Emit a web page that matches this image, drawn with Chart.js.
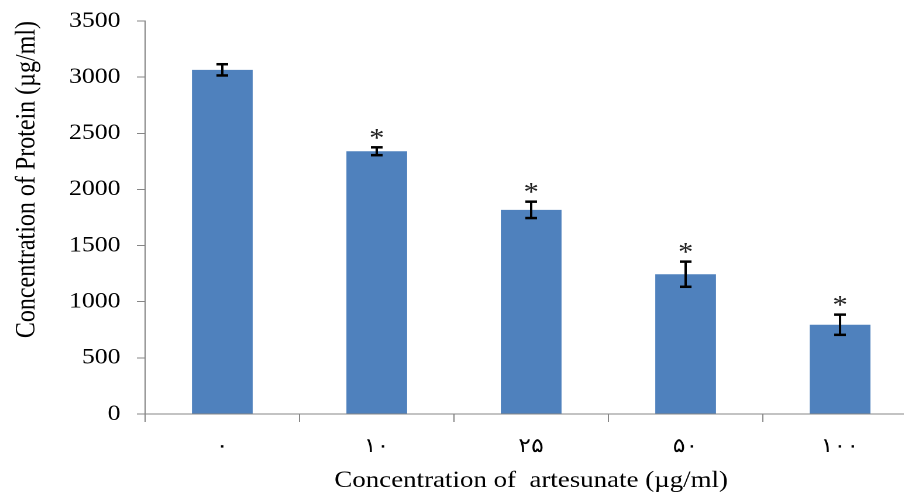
<!DOCTYPE html>
<html>
<head>
<meta charset="utf-8">
<script src="https://cdn.jsdelivr.net/npm/chart.js@4/dist/chart.umd.min.js"></script>
<style>
  html, body { margin: 0; padding: 0; background: #fff; overflow: hidden; }
  #outer { width: 904px; height: 497px; overflow: hidden; position: relative; }
  #wrap { position: absolute; left: 0; top: 0; width: 784px; height: 497px; transform: scaleX(1.17); transform-origin: 0 0; }
</style>
</head>
<body>
<div id="outer"><div id="wrap"><canvas id="c"></canvas></div></div>
<script>
// ---- data ----
const categories = ['۰', '۱۰', '۲۵', '۵۰', '۱۰۰'];
const means = [3065, 2340, 1818, 1245, 795];
const errors = [50, 35, 73, 112, 90];
const significant = [false, true, true, true, true];
const yMin = 0, yMax = 3500, yStep = 500;
const xTitle = 'Concentration of  artesunate (µg/ml)';
const yTitle = 'Concentration of Protein (µg/ml)';

const serif = "'Liberation Serif', 'Times New Roman', serif";
const axisGrey = '#868686';

const errorPlugin = {
  id: 'errorBars',
  afterDatasetsDraw(chart) {
    const ctx = chart.ctx;
    const meta = chart.getDatasetMeta(0);
    const ys = chart.scales.y;
    ctx.save();
    ctx.strokeStyle = '#000';
    meta.data.forEach((bar, i) => {
      const x = bar.x;
      const top = ys.getPixelForValue(means[i] + errors[i]);
      const bot = ys.getPixelForValue(means[i] - errors[i]);
      const hw = 5;
      ctx.lineWidth = 2;
      ctx.beginPath(); ctx.moveTo(x, top); ctx.lineTo(x, bot); ctx.stroke();
      ctx.lineWidth = 2.5;
      ctx.beginPath(); ctx.moveTo(x - hw, top); ctx.lineTo(x + hw, top); ctx.stroke();
      ctx.beginPath(); ctx.moveTo(x - hw, bot); ctx.lineTo(x + hw, bot); ctx.stroke();
      if (significant[i]) {
        ctx.fillStyle = '#222';
        ctx.font = '26px ' + serif;
        ctx.textAlign = 'center';
        ctx.textBaseline = 'alphabetic';
        ctx.fillText('*', x, top - 1);
      }
    });
    ctx.restore();
  }
};

new Chart(document.getElementById('c'), {
  type: 'bar',
  data: {
    labels: categories,
    datasets: [{
      data: means,
      backgroundColor: '#4F81BD',
      borderWidth: 0,
      categoryPercentage: 1,
      barPercentage: 0.393
    }]
  },
  options: {
    responsive: true,
    maintainAspectRatio: false,
    devicePixelRatio: 2,
    animation: false,
    layout: { padding: { top: 21, right: 0, bottom: 0, left: 0 } },
    plugins: { legend: { display: false }, tooltip: { enabled: false } },
    scales: {
      x: {
        offset: true,
        grid: { display: true, offset: true, drawOnChartArea: false, drawTicks: true, tickLength: 8, color: axisGrey, lineWidth: 1 },
        border: { display: true, color: axisGrey, width: 1 },
        ticks: { color: '#000', font: { family: "'DejaVu Serif', " + serif, size: 20 }, padding: 13, maxRotation: 0 },
        title: { display: true, text: xTitle, color: '#000', font: { family: serif, size: 23 }, padding: { top: 0, bottom: 2 } },
        afterFit(scale) { scale.height = 83; scale.paddingLeft = 0; scale.paddingRight = 0; }
      },
      y: {
        min: yMin, max: yMax,
        grid: { display: true, drawOnChartArea: false, drawTicks: true, tickLength: 7, color: axisGrey, lineWidth: 1 },
        border: { display: true, color: axisGrey, width: 1 },
        ticks: { stepSize: yStep, color: '#000', font: { family: serif, size: 22 }, padding: 14,
                 callback: (v) => String(v) },
        title: { display: true, text: yTitle, align: 'end', color: '#000', font: { family: serif, size: 24 }, padding: { top: 9, bottom: 0 } },
        afterFit(scale) { scale.width = 124; scale.paddingTop = 0; scale.paddingBottom = 0; }
      }
    }
  },
  plugins: [errorPlugin]
});
</script>
</body>
</html>
